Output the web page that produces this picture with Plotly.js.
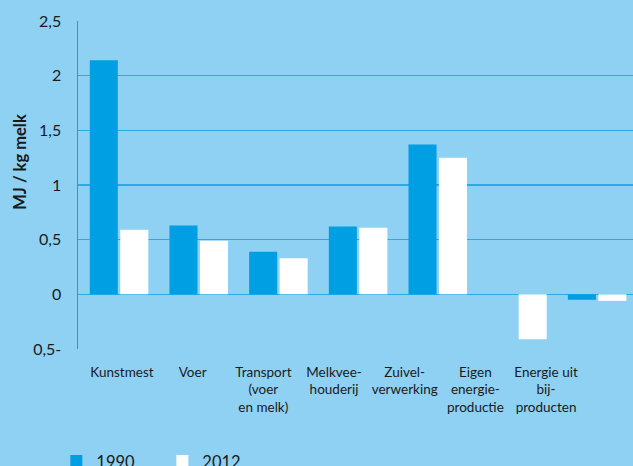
<!DOCTYPE html>
<html>
<head>
<meta charset="utf-8">
<script src="https://cdn.plot.ly/plotly-3.0.1.min.js"></script>
<style>
html,body{margin:0;padding:0;background:#8fd1f3;}
#chart{width:633px;height:466px;}
</style>
</head>
<body>
<div id="chart"></div>
<script>
// Data
const categories = ["Kunstmest","Voer","Transport","Melkvee","Zuivel","Eigen","Energie"];
const categoryLabels = [
  "Kunstmest",
  "Voer",
  "Transport<br>(voer<br>en melk)",
  "Melkvee-<br>houderij",
  "Zuivel-<br>verwerking",
  "Eigen<br>energie-<br>productie",
  "Energie uit<br>bij-<br>producten"
];
const values1990 = [2.14, 0.63, 0.39, 0.62, 1.37, 0.0, -0.05];
const values2012 = [0.59, 0.49, 0.33, 0.61, 1.25, -0.41, -0.06];
const yTickVals = [-0.5, 0, 0.5, 1, 1.5, 2, 2.5];
const yTickText = ["0,5-", "0", "0,5", "1", "1,5", "2", "2,5"];
const seriesNames = ["1990", "2012"];

const BG = "#8fd1f3";
const BLUE = "#009fe3";
const GRID = "#2aa9e2";
const TEXT = "#1a1a1a";
const FONT = "Lato, 'Open Sans', sans-serif";

const traces = [
  {type:"bar", name:seriesNames[0], x:categories, y:values1990,
   marker:{color:BLUE, line:{width:0}}},
  {type:"bar", name:seriesNames[1], x:categories, y:values2012,
   marker:{color:"#ffffff", line:{width:0}}},
  {type:"scatter", x:[], y:[], xaxis:"x2", yaxis:"y", showlegend:false, hoverinfo:"skip"}
];

const layout = {
  width:633, height:466,
  paper_bgcolor:BG, plot_bgcolor:BG,
  margin:{l:78, r:0, t:21, b:117},
  font:{family:FONT, color:TEXT},
  barmode:"group", bargap:0.235, bargroupgap:0.08,
  xaxis:{type:"category", range:[-0.515, 6.45], showticklabels:false,
         showgrid:false, zeroline:false, showline:false, ticks:"", fixedrange:true},
  xaxis2:{type:"linear", overlaying:"x", anchor:"y", side:"bottom",
          range:[-0.622, 7.23], tickmode:"array", tickvals:[0,1,2,3,4,5,6],
          ticktext:categoryLabels, showgrid:false, zeroline:false, showline:false,
          ticks:"", ticklabelstandoff:13, tickfont:{size:13.5, family:FONT, color:TEXT}},
  yaxis:{range:[-0.5, 2.5], tickmode:"array", tickvals:yTickVals, ticktext:yTickText,
         showgrid:true, gridcolor:GRID, gridwidth:1.5,
         zeroline:true, zerolinecolor:GRID, zerolinewidth:1.5,
         showline:true, linecolor:"#1b9de2", linewidth:1.5,
         ticks:"", ticklabelstandoff:12, tickfont:{size:16, family:FONT, color:TEXT}},
  showlegend:true,
  legend:{orientation:"h", xref:"container", yref:"container", x:0.089, y:0.01,
          xanchor:"left", yanchor:"middle", bgcolor:"rgba(0,0,0,0)",
          entrywidth:61, entrywidthmode:"pixels", traceorder:"normal",
          font:{size:16.5, family:FONT, color:TEXT}},
  annotations:[
    {text:"<b>MJ / kg melk</b>", xref:"paper", yref:"paper", x:-0.105, y:0.57,
     textangle:-90, showarrow:false, xanchor:"center", yanchor:"middle",
     font:{size:16.5, family:FONT, color:TEXT}}
  ]
};

Plotly.newPlot("chart", traces, layout, {displayModeBar:false, staticPlot:true});
</script>
</body>
</html>
